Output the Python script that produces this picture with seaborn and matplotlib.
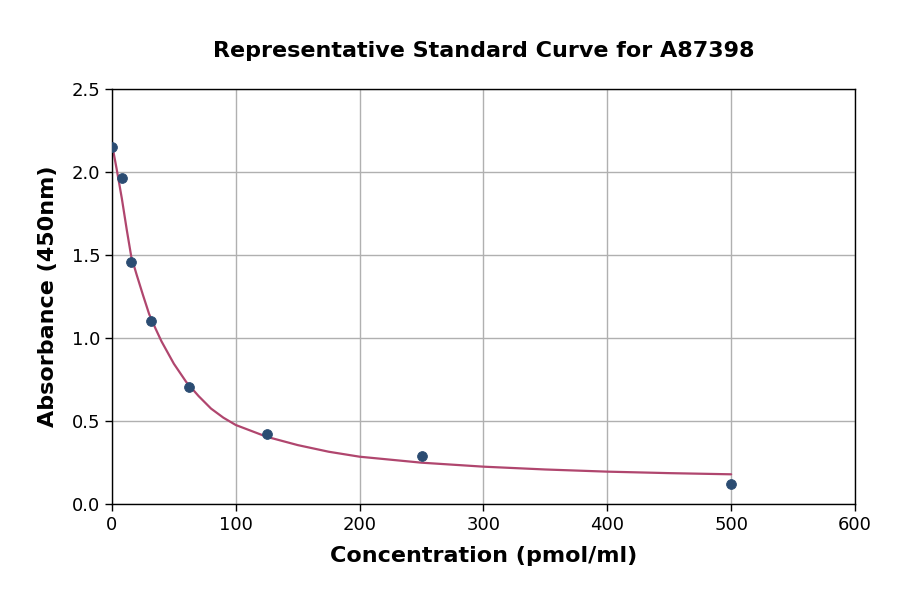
import numpy as np
import pandas as pd
import matplotlib
matplotlib.use("Agg")
import matplotlib.pyplot as plt
import seaborn as sns

# standards
conc = [0, 7.8, 15.6, 31.25, 62.5, 125, 250, 500]
absorb = [2.15, 1.966, 1.46, 1.10, 0.705, 0.42, 0.287, 0.122]

# fitted curve
curve_x = [0, 4, 8, 12, 15.6, 20, 25, 30, 35, 40, 50, 60, 70, 80, 90, 100,
           125, 150, 175, 200, 250, 300, 350, 400, 450, 500]
curve_y = [2.17, 2.01, 1.84, 1.65, 1.49, 1.38, 1.26, 1.145, 1.06, 0.98, 0.845,
           0.735, 0.65, 0.575, 0.52, 0.476, 0.405, 0.355, 0.315, 0.285, 0.249,
           0.225, 0.208, 0.195, 0.186, 0.179]

pts = pd.DataFrame({"conc": conc, "absorb": absorb})
fit = pd.DataFrame({"x": curve_x, "y": curve_y})

sns.set_style("white")
plt.rcParams["font.family"] = ["DejaVu Sans"]
plt.rcParams["text.color"] = "black"
plt.rcParams["axes.labelcolor"] = "black"
plt.rcParams["xtick.color"] = "black"
plt.rcParams["ytick.color"] = "black"

fig, ax = plt.subplots(figsize=(9, 5.94), dpi=100)
fig.subplots_adjust(left=0.1244, right=0.95, top=0.850, bottom=0.1515)

sns.lineplot(data=fit, x="x", y="y", ax=ax, color="#b0466e", linewidth=1.6, zorder=2)
sns.scatterplot(data=pts, x="conc", y="absorb", ax=ax, color="#2b4c72", s=50,
                edgecolor="#2b4c72", zorder=3)

ax.set_xlim(0, 600)
ax.set_ylim(0, 2.5)
ax.set_xticks(range(0, 601, 100))
ax.set_yticks(np.arange(0, 2.51, 0.5))
ax.set_yticklabels(["0.0", "0.5", "1.0", "1.5", "2.0", "2.5"])
ax.grid(True, color="#b0b0b0", linewidth=1)
ax.set_axisbelow(True)
for s in ax.spines.values():
    s.set_color("black")
    s.set_linewidth(1)
ax.tick_params(axis="both", labelsize=13, length=5, width=1, color="black",
               labelcolor="black", bottom=True, left=True)

ax.set_title("Representative Standard Curve for A87398", fontsize=16,
             fontweight="bold", pad=23, color="black")
ax.set_xlabel("Concentration (pmol/ml)", fontsize=16, fontweight="bold", labelpad=9)
ax.set_ylabel("Absorbance (450nm)", fontsize=16, fontweight="bold", labelpad=10)

plt.savefig("out.png", dpi=100)
